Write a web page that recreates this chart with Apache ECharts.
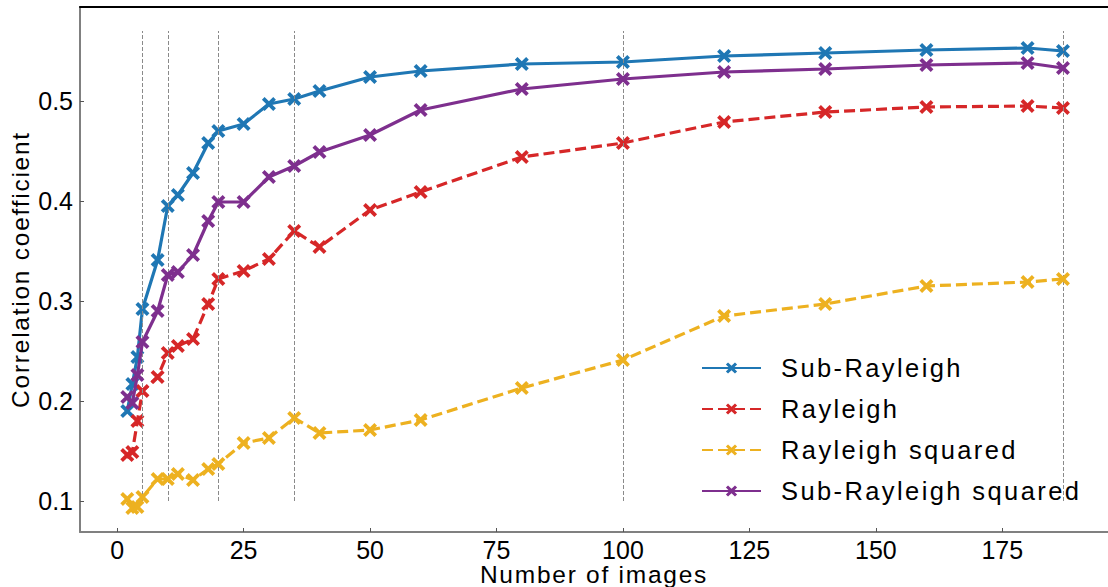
<!DOCTYPE html>
<html><head><meta charset="utf-8">
<script src="https://cdn.jsdelivr.net/npm/echarts@6/dist/echarts.min.js"></script>
<style>html,body{margin:0;padding:0;background:#fff}#c{width:1108px;height:587px}
#c text[style*="24.5px"]{letter-spacing:1.75px}
#c text[style*="25.5px"]{letter-spacing:2.4px}</style>
</head><body><div id="c"></div>
<script>
// ---- data ----
const xValues = [2,3,4,5,8,10,12,15,18,20,25,30,35,40,50,60,80,100,120,140,160,180,187];
const subRayleigh = [0.190,0.217,0.244,0.292,0.341,0.395,0.406,0.428,0.458,0.470,0.477,0.497,0.502,0.510,0.524,0.530,0.537,0.539,0.545,0.548,0.551,0.553,0.550];
const rayleigh = [0.146,0.149,0.180,0.210,0.224,0.248,0.255,0.262,0.297,0.322,0.330,0.342,0.370,0.354,0.391,0.409,0.444,0.458,0.479,0.489,0.494,0.495,0.493];
const rayleighSquared = [0.102,0.093,0.094,0.104,0.122,0.122,0.127,0.121,0.132,0.137,0.158,0.163,0.183,0.168,0.171,0.181,0.213,0.241,0.285,0.297,0.315,0.319,0.322];
const subRayleighSquared = [0.204,0.198,0.226,0.259,0.290,0.326,0.329,0.346,0.380,0.399,0.399,0.424,0.435,0.449,0.466,0.491,0.512,0.522,0.529,0.532,0.536,0.538,0.533];
const seriesNames = ['Sub-Rayleigh','Rayleigh','Rayleigh squared','Sub-Rayleigh squared'];
const xTicks = [0,25,50,75,100,125,150,175];
const yTicks = [0.1,0.2,0.3,0.4,0.5];
const guideX = [5,10,20,35,100,187];
const guideYRange = [0.1,0.57];

// ---- styling ----
const colors = ['#1f77b4','#d62728','#edb120','#7e2f8e'];
const dashes = ['solid',[11,5],[11,5],'solid'];
const xMark = 'path://M0,1.9L1.9,0L5,3.1L8.1,0L10,1.9L6.9,5L10,8.1L8.1,10L5,6.9L1.9,10L0,8.1L3.1,5Z';
const FONT = '"Liberation Sans", Arial, sans-serif';
const allY = [subRayleigh, rayleigh, rayleighSquared, subRayleighSquared];

const series = allY.map((ys, i) => ({
  name: seriesNames[i],
  type: 'line',
  data: xValues.map((x, j) => [x, ys[j]]),
  symbol: xMark,
  symbolSize: 14,
  showSymbol: true,
  color: colors[i],
  itemStyle: {color: colors[i]},
  lineStyle: {width: 3.2, type: dashes[i], color: colors[i]},
  z: 3 + i,
  silent: true
}));

series.unshift({
  type: 'line',
  data: [],
  silent: true,
  markLine: {
    silent: true,
    symbol: ['none','none'],
    label: {show: false},
    lineStyle: {color: '#8a8a8a', width: 1, type: [4,2]},
    data: guideX.map(x => [{coord: [x, guideYRange[0]]}, {coord: [x, guideYRange[1]]}])
  },
  z: 1
});

const chart = echarts.init(document.getElementById('c'), null, {renderer: 'svg'});
chart.setOption({
  animation: false,
  backgroundColor: '#fff',
  grid: {left: 80, right: 0, top: 7, bottom: 55, containLabel: false, outerBoundsMode: 'none'},
  xAxis: [{
    type: 'value', min: -7.35, max: 195.9,
    name: 'Number of images', nameLocation: 'middle', nameGap: 31, nameMoveOverlap: false,
    nameTextStyle: {fontFamily: FONT, fontSize: 24.5, color: '#000', lineHeight: 22},
    axisLine: {show: true, onZero: false, lineStyle: {color: '#808080', width: 2}},
    axisTick: {show: true, inside: true, length: 4, customValues: xTicks, lineStyle: {color: '#555', width: 1}},
    axisLabel: {customValues: xTicks, fontFamily: FONT, fontSize: 25, color: '#000', margin: 5, lineHeight: 25},
    splitLine: {show: false}
  }, {
    type: 'value', position: 'top', min: -7.35, max: 195.9,
    axisLine: {show: true, onZero: false, lineStyle: {color: '#000', width: 2}},
    axisTick: {show: false}, axisLabel: {show: false}, splitLine: {show: false}
  }],
  yAxis: {
    type: 'value', min: 0.069, max: 0.594,
    name: 'Correlation coefficient', nameLocation: 'middle', nameGap: 47, nameMoveOverlap: false,
    nameTextStyle: {fontFamily: FONT, fontSize: 24.5, color: '#000'},
    axisLine: {show: true, onZero: false, lineStyle: {color: '#808080', width: 2}},
    axisTick: {show: true, inside: true, length: 4, customValues: yTicks, lineStyle: {color: '#555', width: 1}},
    axisLabel: {customValues: yTicks, fontFamily: FONT, fontSize: 25, color: '#000', margin: 7,
      formatter: v => v.toFixed(1)},
    splitLine: {show: false}
  },
  legend: {
    data: seriesNames,
    orient: 'vertical',
    left: 701, top: 353, padding: 0,
    itemWidth: 59, itemHeight: 14, itemGap: 11,
    textStyle: {fontFamily: FONT, fontSize: 25.5, color: '#000', lineHeight: 30, padding: [0,0,0,15]}
  },
  series: series
});
</script>
</body></html>
